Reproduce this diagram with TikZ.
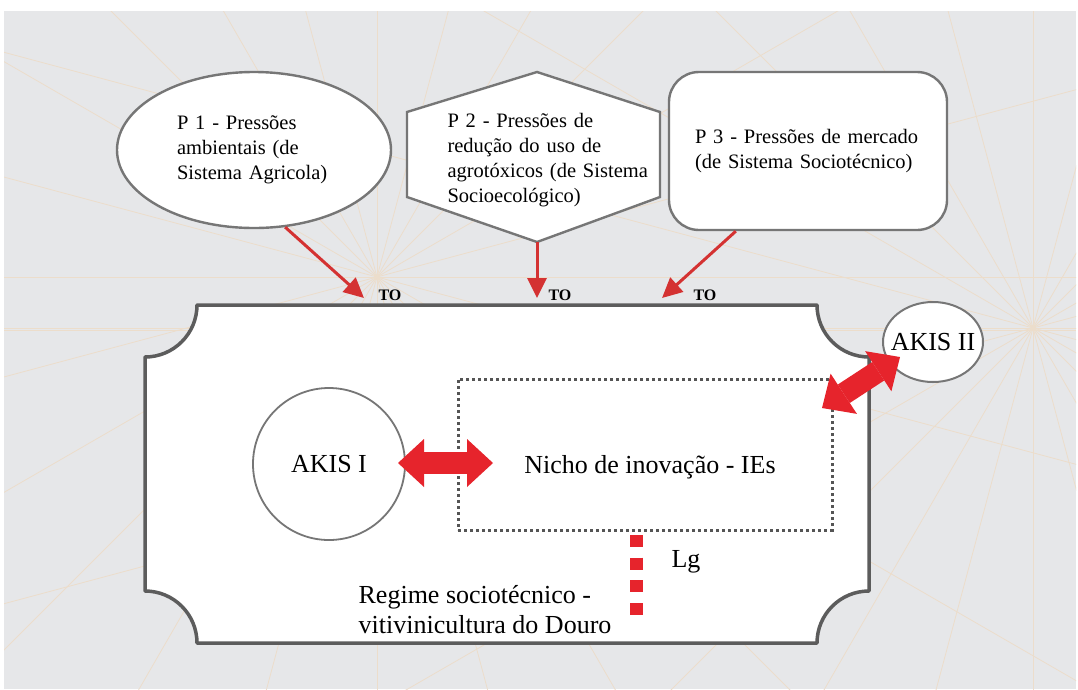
\documentclass[tikz,border=0pt]{standalone}
\usepackage{fontspec}
\setmainfont{Liberation Serif}
\usetikzlibrary{arrows.meta,shapes.geometric}
\definecolor{bggray}{RGB}{230,231,233}
\definecolor{bgline}{RGB}{236,221,203}
\definecolor{boxline}{RGB}{92,92,92}
\definecolor{shapeline}{RGB}{118,118,118}
\definecolor{arrowred}{RGB}{212,50,50}
\definecolor{bigred}{RGB}{230,36,44}
\definecolor{dotgray}{RGB}{85,85,85}
\begin{document}
\begin{tikzpicture}[x=1pt,y=-1pt,
  toptext/.style={font=\fontsize{20.5}{25}\selectfont, align=left, inner sep=0pt},
  bigtext/.style={font=\fontsize{26}{30}\selectfont, inner sep=0pt},
  shapeborder/.style={draw=shapeline, line width=2.4pt, fill=white},
  tolabel/.style={font=\bfseries\fontsize{16}{18}\selectfont, inner sep=0pt},
  pressarrow/.style={draw=arrowred, line width=3pt, -{Triangle[length=20pt,width=19pt]}},
  bigarrow/.style={draw=bigred, line width=22pt,
     {Triangle[length=26pt,width=48pt,line width=0pt]}-{Triangle[length=26pt,width=48pt,line width=0pt]}},
  lgline/.style={draw=bigred, line width=13pt, dash pattern=on 12pt off 10.7pt}
]
\useasboundingbox (0,0) rectangle (1078,689);
\fill[white] (0,0) rectangle (1078,689);
% background
\begin{scope}
  \clip (4,11) rectangle (1076,689);
  \fill[bggray] (4,11) rectangle (1076,689);
  \foreach \a in {0,15,...,345} \draw[bgline, line width=0.8pt] (377,277) -- ++(\a:1300pt);
  \foreach \a in {0,15,...,345} \draw[bgline, line width=0.8pt] (1033,328) -- ++(\a:1300pt);
  \draw[bgline, line width=0.8pt] (4,277) -- (1076,277);
  \draw[bgline, line width=0.8pt] (4,330) -- (1076,330);
\end{scope}

% top pressure shapes
\node[ellipse, shapeborder, minimum width=274pt, minimum height=156pt, inner sep=0pt,
      toptext, text width=154pt] (p1) at (254,150)
  {P 1 - Pressões\\ambientais (de\\Sistema Agricola)};

\draw[shapeborder] (537,72) -- (660,112) -- (660,197) -- (537,242) -- (407,197) -- (407,112) -- cycle;
\node[toptext, text width=203pt] (p2) at (549,160)
  {P 2 - Pressões de\\redução do uso de\\agrotóxicos (de Sistema\\Socioecológico)};
\coordinate (p2b) at (537,242);

\node[rectangle, rounded corners=30pt, shapeborder, minimum width=278pt, minimum height=158pt,
      toptext, text width=226pt] (p3) at (808,151)
  {P 3 - Pressões de mercado\\(de Sistema Sociotécnico)};

% main regime box
\draw[boxline, line width=3.5pt, fill=white, line join=round]
  (197,305) -- (817,305) .. controls (817,333.7) and (840.3,357) .. (869,357)
  -- (869,591) .. controls (840.3,591) and (817,614.3) .. (817,643)
  -- (197,643) .. controls (197,614.3) and (173.7,591) .. (145,591)
  -- (145,357) .. controls (173.7,357) and (197,333.7) .. (197,305) -- cycle;

% pressure arrows
\coordinate (t1) at (364,298);
\coordinate (t2) at (537,298);
\coordinate (t3) at (662,298);
\draw[pressarrow] (p1.-68) -- (t1);
\draw[pressarrow] (p2b) -- (t2);
\draw[pressarrow] (p3.-132) -- (t3);
\node[tolabel] (to1) at (390,295) {TO};
\node[tolabel] (to2) at (560,295) {TO};
\node[tolabel] (to3) at (705,295) {TO};

% AKIS I and niche
\node[circle, draw=shapeline, line width=1.8pt, fill=white, minimum size=152pt, inner sep=0pt,
      bigtext] (akis1) at (329,464) {AKIS I};
\node[draw=dotgray, line width=3pt, dash pattern=on 3pt off 3pt, minimum width=374pt,
      minimum height=151pt, inner sep=0pt] (niche) at (645,454.5) {};
\node[bigtext] (nichetext) at (650,467) {Nicho de inovação - IEs};

% AKIS II
\node[ellipse, draw=shapeline, line width=2pt, fill=white, minimum width=100pt,
      minimum height=80pt, inner sep=0pt, bigtext] (akis2) at (933,342) {\makebox[0pt]{AKIS II}};

% big double arrows
\coordinate (h1) at (398,463);
\coordinate (h2) at (493,463);
\draw[bigarrow] (h1) -- (h2);
\coordinate (d1) at (822,408);
\coordinate (d2) at (900,357);
\draw[bigarrow] (d1) -- (d2);

% Lg link
\coordinate (lg1) at (636.5,535);
\coordinate (lg2) at (636.5,615);
\draw[lgline] (lg1) -- (lg2);
\node[bigtext] (lg) at (686,562) {Lg};

% regime label
\node[bigtext, align=left] (regime) at (485,610)
  {Regime sociotécnico -\\vitivinicultura do Douro};
\end{tikzpicture}
\end{document}
